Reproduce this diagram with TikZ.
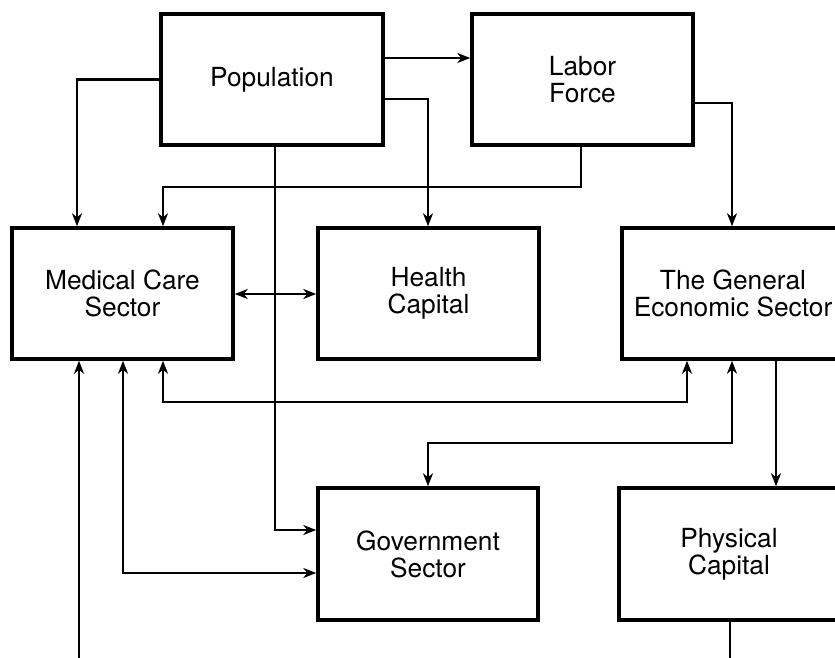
\documentclass[tikz,border=0pt]{standalone}
\usepackage{fontspec}
\setmainfont{TeX Gyre Heros}
\usetikzlibrary{arrows.meta}
\begin{document}
\begin{tikzpicture}[x=1pt,y=-1pt,
  box/.style={draw,line width=3.5pt,minimum height=131pt,inner sep=0pt,align=center,
     font=\fontsize{26.3}{27}\selectfont},
  conn/.style={line width=2.3pt},
  tip/.tip={Stealth[length=13pt,width=10pt,inset=4pt]},
  arr/.style={conn,-tip},
  arrs/.style={conn,tip-tip}]
\useasboundingbox (0,0) rectangle (835,658);
\clip (0,0) rectangle (835,658);
\node[box,minimum width=222pt] (pop) at (272,79.5) {Population};
\node[box,minimum width=221pt] (lab) at (582.5,79.5) {Labor\\Force};
\node[box,minimum width=221pt] (med) at (122.5,293.5) {Medical Care\\Sector};
\node[box,minimum width=221pt] (hea) at (428.5,293.5) {Health\\Capital};
\node[box,minimum width=222pt] (gen) at (733,293.5) {The General\\Economic Sector};
\node[box,minimum width=220pt,minimum height=132pt] (gov) at (428,554) {Government\\Sector};
\node[box,minimum width=220pt,minimum height=132pt] (phy) at (729,554) {Physical\\Capital};
\coordinate (bl) at (79,662);
\coordinate (br) at (730,662);
% connectors
\draw[arr] (pop.west) -| (77,0 |- med.north);
\draw[arr] (pop.east |- 0,58) -- (lab.west |- 0,58);
\draw[arr] (pop.east |- 0,99) -| (428,0 |- hea.north);
\draw[arr] (275,0 |- pop.south) |- (gov.west |- 0,530);
\draw[arr] (581,0 |- lab.south) -- (581,187) -| (163,0 |- med.north);
\draw[arr] (lab.east |- 0,103) -| (732,0 |- gen.north);
\draw[arrs] (med.east |- 0,294) -- (hea.west |- 0,294);
\draw[arrs] (163,0 |- med.south) |- (687,402) -- (687,0 |- gen.south);
\draw[arrs] (123,0 |- med.south) |- (gov.west |- 0,573);
\draw[arr] (bl) -- (79,0 |- med.south);
\draw[arrs] (732,0 |- gen.south) |- (428,443) -- (428,0 |- gov.north);
\draw[arr] (776,0 |- gen.south) -- (776,0 |- phy.north);
\draw[conn] (730,0 |- phy.south) -- (br);
\end{tikzpicture}
\end{document}
